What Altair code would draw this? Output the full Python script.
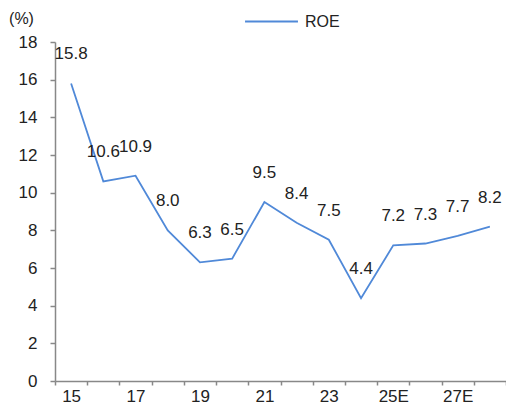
import altair as alt
import pandas as pd

years = ["15", "16", "17", "18", "19", "20", "21", "22", "23", "24", "25E", "26E", "27E", "28E"]
roe = [15.8, 10.6, 10.9, 8.0, 6.3, 6.5, 9.5, 8.4, 7.5, 4.4, 7.2, 7.3, 7.7, 8.2]
series = ["ROE"] * len(years)
shown_labels = ["15", "17", "19", "21", "23", "25E", "27E"]

df = pd.DataFrame({"year": years, "roe": roe, "series": series})
FONT = "Liberation Sans"

x = alt.X(
    "year:O",
    sort=years,
    scale=alt.Scale(type="band", paddingInner=0, paddingOuter=0),
    axis=alt.Axis(
        title=None,
        labelAngle=0,
        ticks=True,
        tickBand="extent",
        labelExpr="indexof(" + str(shown_labels) + ", datum.value) >= 0 ? datum.value : ''",
        labelOverlap=False,
        labelFontSize=17,
        labelFont=FONT,
        labelColor="#222222",
        labelPadding=3,
        domainColor="#888888",
        tickColor="#888888",
        tickSize=4,
        tickWidth=1.5,
        domainWidth=1.5,
    ),
)

y = alt.Y(
    "roe:Q",
    scale=alt.Scale(domain=[0, 18]),
    axis=alt.Axis(
        values=list(range(0, 19, 2)),
        labelOverlap=False,
        ticks=True,
        grid=False,
        title="(%)",
        titleAngle=0,
        titleX=-34,
        titleY=-24,
        titleAlign="center",
        titleBaseline="middle",
        titleFont=FONT,
        titleFontSize=16,
        titleFontWeight="normal",
        titleColor="#222222",
        labelFontSize=17,
        labelFont=FONT,
        labelColor="#222222",
        labelPadding=13,
        domainColor="#888888",
        tickColor="#888888",
        tickSize=5,
        tickWidth=1.5,
        domainWidth=1.5,
    ),
)

line = alt.Chart(df).mark_line(strokeWidth=1.8).encode(
    x=x,
    y=y,
    color=alt.Color(
        "series:N",
        scale=alt.Scale(range=["#5089D8"]),
        legend=alt.Legend(
            title=None,
            orient="none",
            legendX=189,
            legendY=-48,
            symbolType="stroke",
            symbolSize=2800,
            symbolStrokeWidth=2,
            labelFont=FONT,
            labelFontSize=16,
            labelColor="#222222",
            labelOffset=6,
        ),
    ),
)

labels = alt.Chart(df).mark_text(
    dy=-29, fontSize=17, font=FONT, color="#222222"
).encode(
    x=x,
    y=y,
    text=alt.Text("roe:Q", format=".1f"),
)

chart = (
    alt.layer(line, labels)
    .properties(
        width=451,
        height=339,
        autosize=alt.AutoSizeParams(type="none"),
        padding={"left": 47, "top": 34, "right": 0, "bottom": 27},
    )
    .configure_view(stroke=None)
    .configure_axis(ticks=True, labelOverlap=False)
)

chart.save("out.html", embed_options={"renderer": "svg", "actions": False})
